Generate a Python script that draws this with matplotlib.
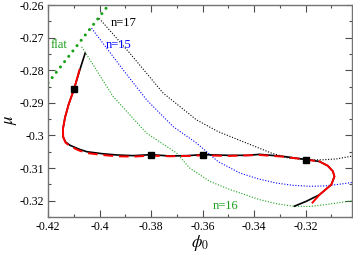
import numpy as np
import matplotlib
matplotlib.use("Agg")
import matplotlib.pyplot as plt
from matplotlib.ticker import MultipleLocator

# -------------------------
# Data
# -------------------------
# main solution branch (black solid)
phi_main = [-0.4056, -0.4075, -0.4099, -0.4120, -0.4134, -0.4142, -0.4141, -0.4132,
            -0.4115, -0.4080, -0.4049, -0.3990, -0.3933, -0.3870, -0.3800, -0.3727,
            -0.3660, -0.3600, -0.3500, -0.3424, -0.3378, -0.3290, -0.3197, -0.3146,
            -0.3114, -0.3094, -0.3088, -0.3100, -0.3146, -0.3197, -0.3243]
mu_main = [-0.2748, -0.2795, -0.2858, -0.2905, -0.2945, -0.2980, -0.3005, -0.3020,
           -0.3030, -0.3042, -0.3050, -0.3056, -0.3060, -0.3062, -0.3059, -0.3063,
           -0.3062, -0.3059, -0.3061, -0.3061, -0.3058, -0.3064, -0.3074, -0.3080,
           -0.3093, -0.3110, -0.3126, -0.3151, -0.3182, -0.3202, -0.3217]

# red overlay: solid on upper-left branch, dashed along plateau, solid round the turn
phi_red_a = [-0.4078, -0.4099, -0.4120, -0.4134, -0.4142, -0.4141]
mu_red_a = [-0.2799, -0.2858, -0.2905, -0.2945, -0.2980, -0.3005]
phi_red_b = [-0.4141, -0.4132, -0.4115, -0.4080, -0.4049, -0.3990, -0.3933, -0.3870,
             -0.3800, -0.3727, -0.3660, -0.3600, -0.3500, -0.3378, -0.3290, -0.3197,
             -0.3146]
mu_red_b = [-0.3005, -0.3022, -0.3033, -0.3046, -0.3054, -0.3060, -0.3064, -0.3065,
            -0.3062, -0.3064, -0.3063, -0.3061, -0.3063, -0.3060, -0.3065, -0.3074,
            -0.3080]
phi_red_c = [-0.3146, -0.3114, -0.3094, -0.3088, -0.3100, -0.3146, -0.3173]
mu_red_c = [-0.3080, -0.3093, -0.3110, -0.3126, -0.3151, -0.3182, -0.3206]

# marked points (squares)
phi_sq = [-0.4099, -0.3802, -0.3600, -0.3197]
mu_sq = [-0.2858, -0.3059, -0.3059, -0.3074]

# flat-interface line
phi_flat = [-0.4200, -0.3965]
mu_flat = [-0.2839, -0.2600]

# n = 17, 15, 16 curves
phi_n17 = [-0.4001, -0.3882, -0.3753, -0.3624, -0.3540, -0.3462, -0.3333, -0.3269,
           -0.3204, -0.3139, -0.3080, -0.3023]
mu_n17 = [-0.2641, -0.2748, -0.2870, -0.2952, -0.2988, -0.3013, -0.3054, -0.3069,
          -0.3074, -0.3075, -0.3072, -0.3064]
phi_n15 = [-0.4031, -0.3908, -0.3817, -0.3714, -0.3624, -0.3540, -0.3456, -0.3385,
           -0.3314, -0.3250, -0.3185, -0.3130, -0.3081, -0.3016]
mu_n15 = [-0.2671, -0.2799, -0.2891, -0.2973, -0.3023, -0.3080, -0.3115, -0.3133,
          -0.3146, -0.3153, -0.3156, -0.3155, -0.3151, -0.3144]
phi_n16 = [-0.4069, -0.3947, -0.3817, -0.3701, -0.3650, -0.3572, -0.3494, -0.3378,
           -0.3310, -0.3249, -0.3185, -0.3120, -0.3060, -0.3016]
mu_n16 = [-0.2728, -0.2881, -0.2993, -0.3054, -0.3100, -0.3141, -0.3166, -0.3197,
          -0.3210, -0.3217, -0.3218, -0.3212, -0.3205, -0.3200]

green = "#19a019"

plt.rcParams["font.family"] = ["Liberation Serif", "DejaVu Serif"]
plt.rcParams["mathtext.fontset"] = "stix"

fig = plt.figure(figsize=(3.53, 2.54), dpi=100)
ax = fig.add_axes([0.136, 0.146, 0.861, 0.834])

ax.plot(phi_n17, mu_n17, color="black", lw=0.8, ls=(0, (1, 1.5)))
ax.plot(phi_n15, mu_n15, color="blue", lw=0.8, ls=(0, (1, 1.5)))
ax.plot(phi_n16, mu_n16, color=green, lw=0.8, ls=(0, (1, 1.5)))
ax.plot(phi_flat, mu_flat, color=green, lw=2.2, ls=(0, (0.01, 2.2)),
        dash_capstyle="round", solid_capstyle="round")

ax.plot(phi_main, mu_main, color="black", lw=1.2)
ax.plot(phi_red_a, mu_red_a, color="red", lw=1.4)
ax.plot(phi_red_b, mu_red_b, color="red", lw=1.4, ls=(0, (5, 3)))
ax.plot(phi_red_c, mu_red_c, color="red", lw=1.4)
ax.plot(phi_sq, mu_sq, ls="none", marker="s", ms=4.5, color="black")

ax.text(-0.4190, -0.2724, "flat", color=green, fontsize=9, va="center", ha="left")
ax.text(-0.3955, -0.2655, "n=17", color="black", fontsize=9, va="center", ha="left")
ax.text(-0.3978, -0.2724, "n=15", color="blue", fontsize=9, va="center", ha="left")
ax.text(-0.3562, -0.3215, "n=16", color=green, fontsize=9, va="center", ha="left")

ax.set_xlim(-0.42, -0.302)
ax.set_ylim(-0.325, -0.26)
ax.xaxis.set_major_locator(MultipleLocator(0.02))
ax.xaxis.set_minor_locator(MultipleLocator(0.01))
ax.yaxis.set_major_locator(MultipleLocator(0.01))
ax.yaxis.set_minor_locator(MultipleLocator(0.005))
ax.set_xticklabels([f"{v:g}" for v in ax.get_xticks()])
ax.set_yticklabels([f"{v:g}" for v in ax.get_yticks()])
ax.tick_params(which="both", direction="in", top=True, right=True, labelsize=8.5,
               width=0.8, color="0.3", pad=3)
ax.tick_params(which="major", length=5)
ax.tick_params(which="minor", length=2.5)
for s in ax.spines.values():
    s.set_color("0.45")
    s.set_linewidth(1.0)

ax.set_xlabel(r"$\phi_0$", fontsize=12, labelpad=0)
ax.set_ylabel(r"$\mu$", fontsize=12)
ax.yaxis.set_label_coords(-0.095, 0.46)

fig.savefig("out.png", dpi=100)
